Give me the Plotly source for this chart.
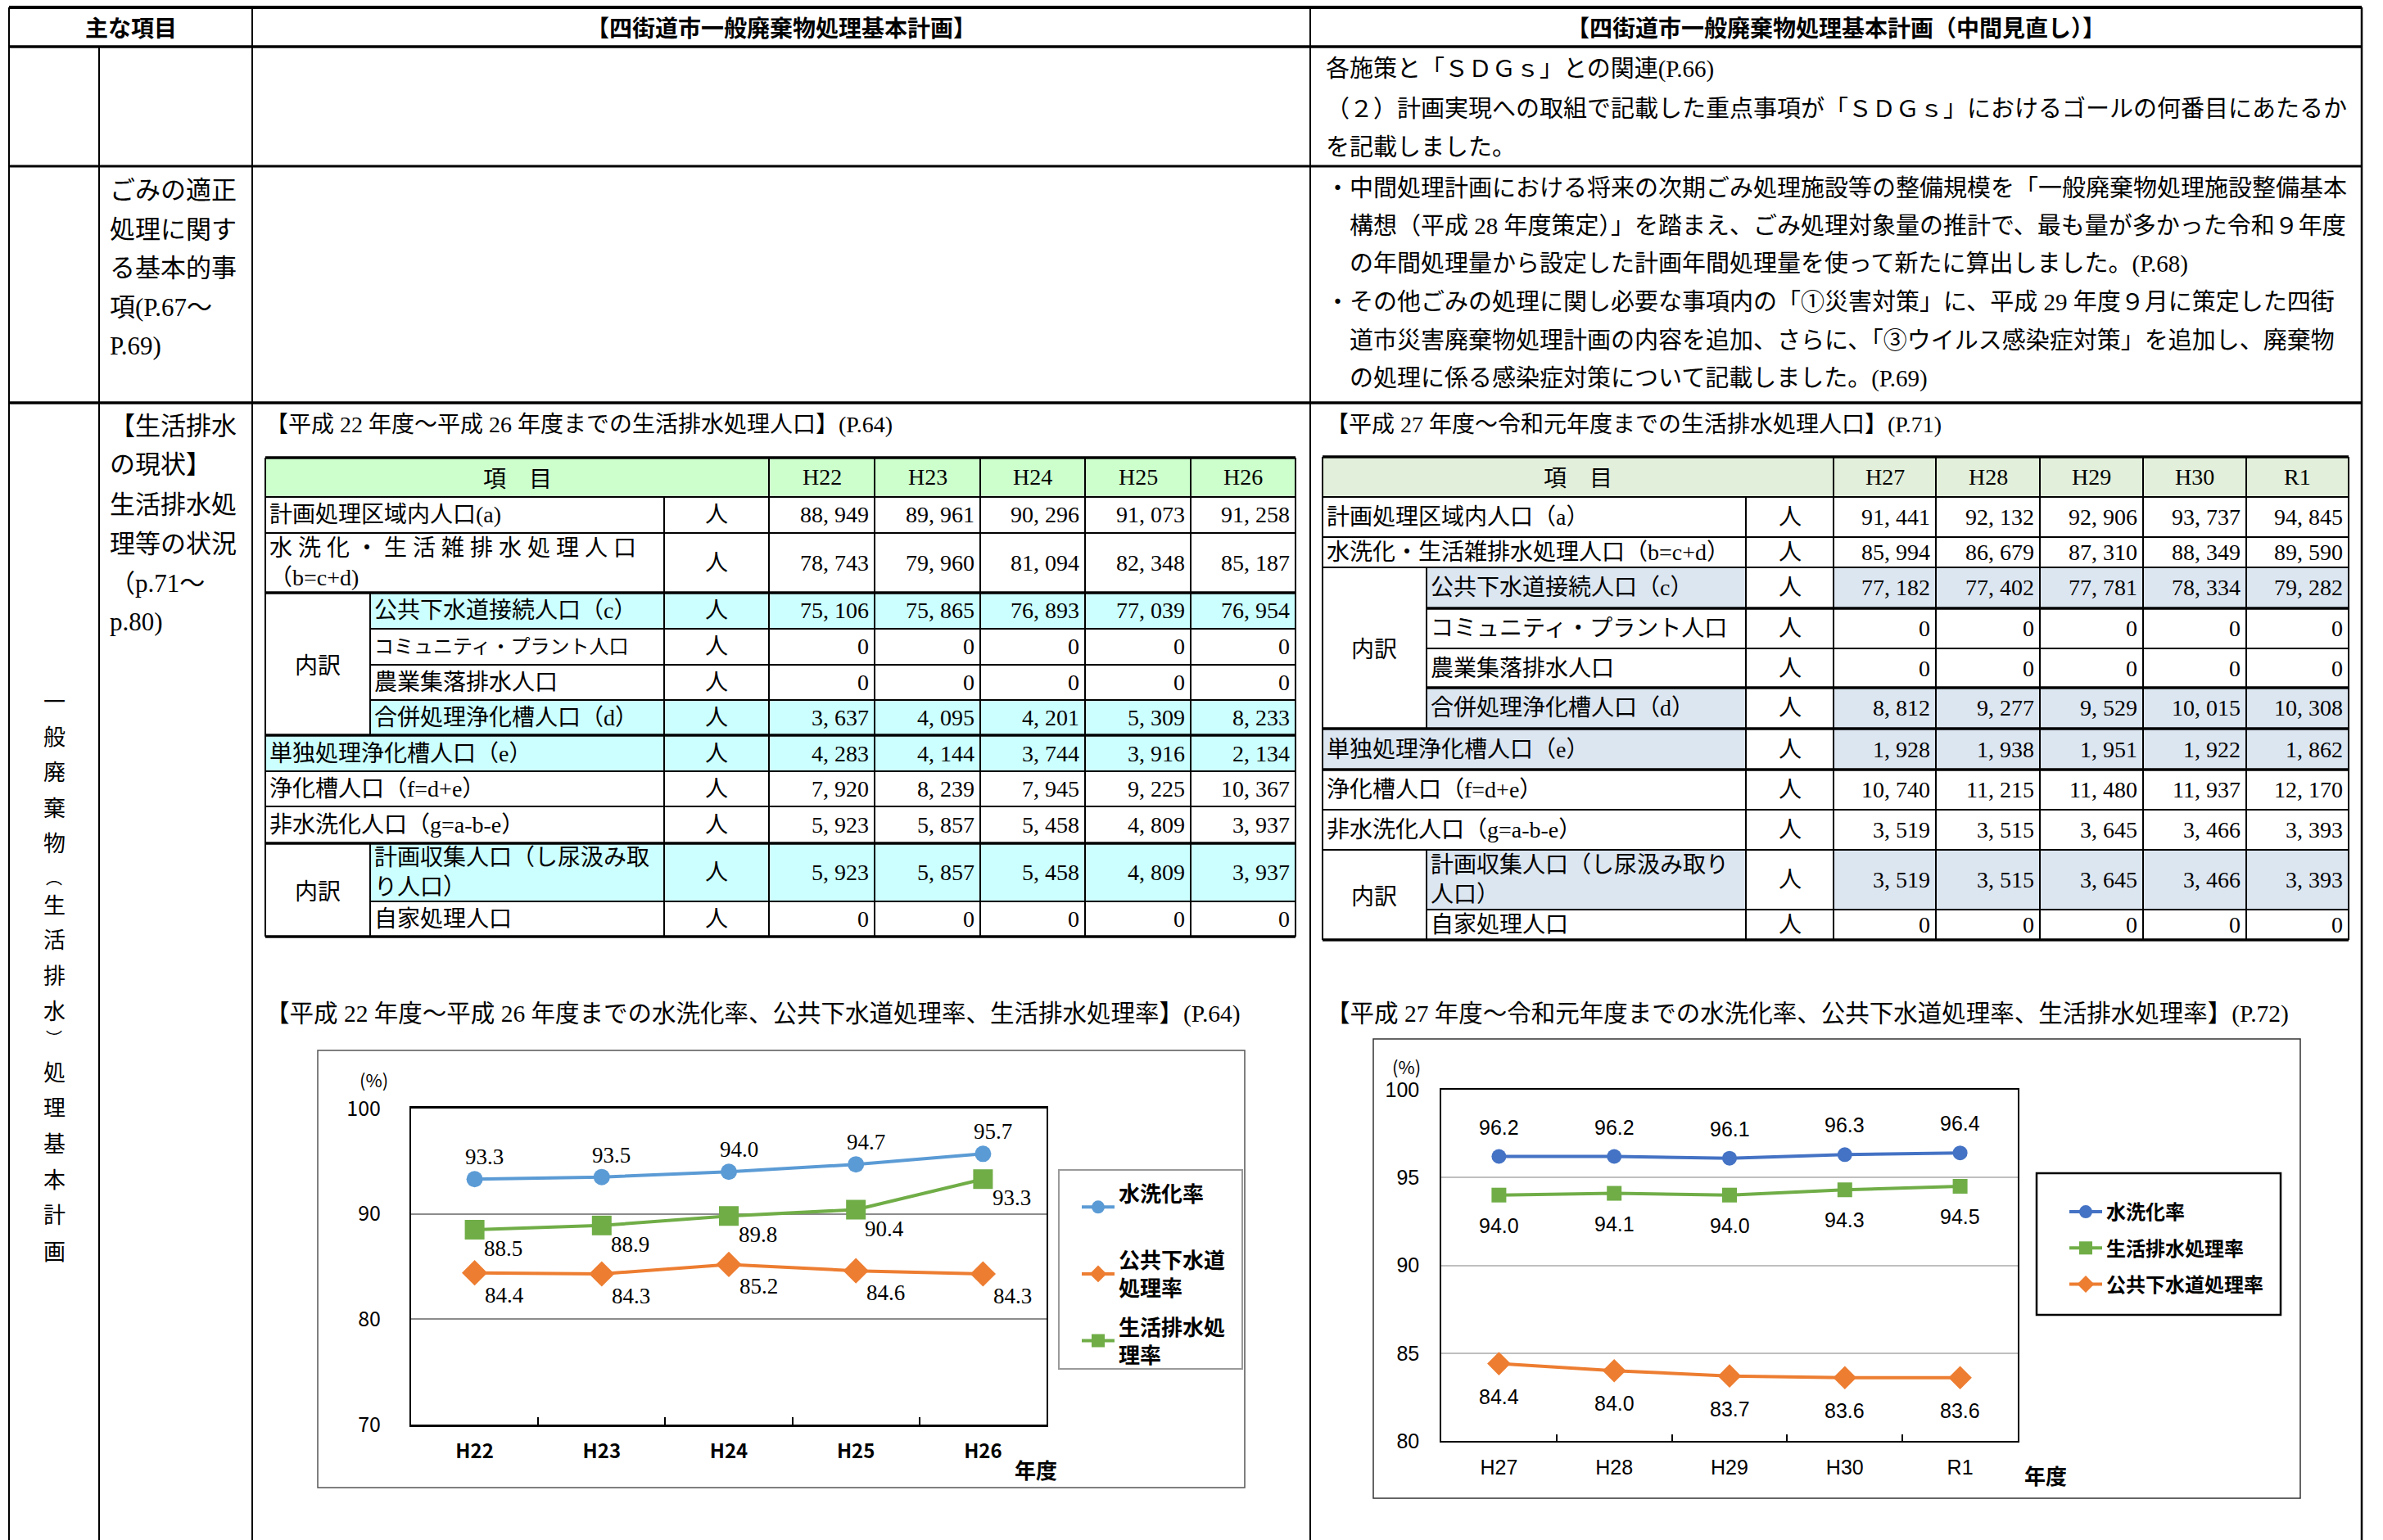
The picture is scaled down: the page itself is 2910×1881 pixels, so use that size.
import plotly.graph_objects as go

W, H = 2910, 1881

# ---------------- data ----------------
years_old = ["H22", "H23", "H24", "H25", "H26"]
years_new = ["H27", "H28", "H29", "H30", "R1"]

items_old = [
    "計画処理区域内人口(a)",
    "水 洗 化 ・ 生 活 雑 排 水 処 理 人 口<br>（b=c+d)",
    "公共下水道接続人口（c）",
    "コミュニティ・プラント人口",
    "農業集落排水人口",
    "合併処理浄化槽人口（d）",
    "単独処理浄化槽人口（e）",
    "浄化槽人口（f=d+e）",
    "非水洗化人口（g=a-b-e）",
    "計画収集人口（し尿汲み取<br>り人口）",
    "自家処理人口",
]
items_new = [
    "計画処理区域内人口（a）",
    "水洗化・生活雑排水処理人口（b=c+d）",
    "公共下水道接続人口（c）",
    "コミュニティ・プラント人口",
    "農業集落排水人口",
    "合併処理浄化槽人口（d）",
    "単独処理浄化槽人口（e）",
    "浄化槽人口（f=d+e）",
    "非水洗化人口（g=a-b-e）",
    "計画収集人口（し尿汲み取り<br>人口）",
    "自家処理人口",
]
unit_label = "人"

old_a = [88949, 89961, 90296, 91073, 91258]
old_b = [78743, 79960, 81094, 82348, 85187]
old_c = [75106, 75865, 76893, 77039, 76954]
old_comm = [0, 0, 0, 0, 0]
old_agri = [0, 0, 0, 0, 0]
old_d = [3637, 4095, 4201, 5309, 8233]
old_e = [4283, 4144, 3744, 3916, 2134]
old_f = [7920, 8239, 7945, 9225, 10367]
old_g = [5923, 5857, 5458, 4809, 3937]
old_collect = [5923, 5857, 5458, 4809, 3937]
old_self = [0, 0, 0, 0, 0]

new_a = [91441, 92132, 92906, 93737, 94845]
new_b = [85994, 86679, 87310, 88349, 89590]
new_c = [77182, 77402, 77781, 78334, 79282]
new_comm = [0, 0, 0, 0, 0]
new_agri = [0, 0, 0, 0, 0]
new_d = [8812, 9277, 9529, 10015, 10308]
new_e = [1928, 1938, 1951, 1922, 1862]
new_f = [10740, 11215, 11480, 11937, 12170]
new_g = [3519, 3515, 3645, 3466, 3393]
new_collect = [3519, 3515, 3645, 3466, 3393]
new_self = [0, 0, 0, 0, 0]

rows_old = [old_a, old_b, old_c, old_comm, old_agri, old_d, old_e, old_f, old_g, old_collect, old_self]
rows_new = [new_a, new_b, new_c, new_comm, new_agri, new_d, new_e, new_f, new_g, new_collect, new_self]

# rates (%)
flush_old = [93.3, 93.5, 94.0, 94.7, 95.7]
sewer_old = [84.4, 84.3, 85.2, 84.6, 84.3]
domestic_old = [88.5, 88.9, 89.8, 90.4, 93.3]

flush_new = [96.2, 96.2, 96.1, 96.3, 96.4]
domestic_new = [94.0, 94.1, 94.0, 94.3, 94.5]
sewer_new = [84.4, 84.0, 83.7, 83.6, 83.6]

# ---------------- layout geometry / styles ----------------
JP = "Noto Sans CJK JP"
BODY = "Liberation Serif, Noto Sans CJK JP"
SANS = "Liberation Sans, Noto Sans CJK JP"

GROUPS = [(2, 5), (9, 10)]
HIGHLIGHT = {2, 5, 6, 9}

OLD_X = dict(l=324, s=452, u=811, v=[939, 1068, 1197, 1325, 1454], r=1582)
OLD_Y = [559, 607, 651, 724, 768, 812, 855, 898, 942, 985, 1030, 1101, 1144]
NEW_X = dict(l=1615, s=1742, u=2132, v=[2239, 2364, 2491, 2617, 2743], r=2868)
NEW_Y = [558, 607, 656, 693, 743, 792, 840, 890, 940, 989, 1038, 1111, 1148]
TF = 28  # table font size

shapes = []
anns = []


def px(x):
    return x / W


def py(y):
    return 1 - y / H


def line(x0, y0, x1, y1, w=2, color="black"):
    shapes.append(dict(type="line", xref="paper", yref="paper",
                       x0=px(x0), y0=py(y0), x1=px(x1), y1=py(y1),
                       line=dict(color=color, width=w)))


def rect(x0, y0, x1, y1, fill=None, lc=None, lw=0):
    d = dict(type="rect", xref="paper", yref="paper",
             x0=px(x0), y0=py(y0), x1=px(x1), y1=py(y1),
             line=dict(width=lw, color=lc if lc else "rgba(0,0,0,0)"))
    if fill:
        d["fillcolor"] = fill
    shapes.append(d)


def txt(x, y, s, size=28, anchor="left", bold=False, family=BODY, color="black"):
    anns.append(dict(x=px(x), y=py(y), xref="paper", yref="paper", text=s,
                     showarrow=False, xanchor=anchor, yanchor="middle",
                     align=anchor, borderpad=0,
                     font=dict(size=size, family=family, color=color,
                               weight="bold" if bold else "normal")))


# ---------------- page frame ----------------
PL, PR, PT, PB = 11, 2884, 9, 1881
line(PL, PT, PR, PT, 4)
line(PL, 57, PR, 57, 3.5)
line(PL, 203, PR, 203, 3)
line(PL, 492, PR, 492, 3.5)
line(PL, PT, PL, PB, 2)
line(121, 57, 121, PB, 2)
line(308, PT, 308, PB, 2)
line(1600, PT, 1600, PB, 2)
line(PR, PT, PR, PB, 2.5)

txt(160, 33, "主な項目", 28, "center", True, JP)
txt(954, 33, "【四街道市一般廃棄物処理基本計画】", 28, "center", True, JP)
txt(2242, 33, "【四街道市一般廃棄物処理基本計画（中間見直し）】", 28, "center", True, JP)

# row 2 right text
for i, s in enumerate([
    "各施策と「ＳＤＧｓ」との関連(P.66)",
    "（２）計画実現への取組で記載した重点事項が「ＳＤＧｓ」におけるゴールの何番目にあたるか",
    "を記載しました。",
]):
    txt(1618, 85 + 47.5 * i, s, 29)

# row 3
for i, s in enumerate(["ごみの適正", "処理に関す", "る基本的事", "項(P.67～", "P.69)"]):
    txt(133, 233 + 47.5 * i, s, 31)
for i, s in enumerate([
    "・中間処理計画における将来の次期ごみ処理施設等の整備規模を「一般廃棄物処理施設整備基本",
    "　構想（平成 28 年度策定）」を踏まえ、ごみ処理対象量の推計で、最も量が多かった令和９年度",
    "　の年間処理量から設定した計画年間処理量を使って新たに算出しました。(P.68)",
    "・その他ごみの処理に関し必要な事項内の「①災害対策」に、平成 29 年度９月に策定した四街",
    "　道市災害廃棄物処理計画の内容を追加、さらに、「③ウイルス感染症対策」を追加し、廃棄物",
    "　の処理に係る感染症対策について記載しました。(P.69)",
]):
    txt(1618, 230 + 46.4 * i, s, 29)

# row 4 column texts (vertical writing)
vchars = ["一", "般", "廃", "棄", "物", "︵", "生", "活", "排", "水", "︶", "処", "理", "基", "本", "計", "画"]
vpos = [855, 898, 941, 985, 1028, 1071, 1104, 1146, 1190, 1233, 1267, 1308, 1351, 1395, 1439, 1482, 1527]
for ch, yy in zip(vchars, vpos):
    small = ch in ("︵", "︶")
    txt(66, yy, ch, 20 if small else 27, "center", False, JP)
for i, s in enumerate(["【生活排水", "の現状】", "生活排水処", "理等の状況", "（p.71～", "p.80)"]):
    txt(133, 520 + 48 * i, s, 31)

txt(323, 518, "【平成 22 年度～平成 26 年度までの生活排水処理人口】(P.64)", 28)
txt(1618, 518, "【平成 27 年度～令和元年度までの生活排水処理人口】(P.71)", 28)
txt(323, 1238, "【平成 22 年度～平成 26 年度までの水洗化率、公共下水道処理率、生活排水処理率】(P.64)", 29.5)
txt(1618, 1238, "【平成 27 年度～令和元年度までの水洗化率、公共下水道処理率、生活排水処理率】(P.72)", 29.5)


# ---------------- tables ----------------
def table(X, Y, years, labels, rows, hdr_fill, hl_fill, fill_unit, thick, small):
    xl, xs, xu, xv, xr = X["l"], X["s"], X["u"], X["v"], X["r"]
    n = len(labels)
    group_of = {}
    for gi, (a, b) in enumerate(GROUPS):
        for i in range(a, b + 1):
            group_of[i] = gi
    rect(xl, Y[0], xr, Y[1], hdr_fill)
    for i in range(n):
        if i in HIGHLIGHT:
            x0 = xs if i in group_of else xl
            if fill_unit:
                rect(x0, Y[i + 1], xr, Y[i + 2], hl_fill)
            else:
                rect(x0, Y[i + 1], xu, Y[i + 2], hl_fill)
                rect(xv[0], Y[i + 1], xr, Y[i + 2], hl_fill)
    for k in range(len(Y)):
        x0 = xl
        if 2 <= k <= n:
            a, b = k - 2, k - 1
            if a in group_of and b in group_of and group_of[a] == group_of[b]:
                x0 = xs
        line(x0, Y[k], xr, Y[k], 3.5 if k in thick else 2)
    line(xl, Y[0], xl, Y[-1], 2)
    line(xr, Y[0], xr, Y[-1], 2)
    for x in xv:
        line(x, Y[0], x, Y[-1], 2)
    line(xu, Y[1], xu, Y[-1], 2)
    for (a, b) in GROUPS:
        line(xs, Y[a + 1], xs, Y[b + 2], 2)
    # text
    txt((xl + xv[0]) / 2, (Y[0] + Y[1]) / 2, "項　目", TF, "center", False, JP)
    edges = xv + [xr]
    for j, yr in enumerate(years):
        txt((edges[j] + edges[j + 1]) / 2, (Y[0] + Y[1]) / 2, yr, TF, "center")
    for i in range(n):
        ym = (Y[i + 1] + Y[i + 2]) / 2
        x0 = xs if i in group_of else xl
        txt(x0 + 4, ym, labels[i], small if i == 3 else TF, "left")
        txt((xu + xv[0]) / 2, ym, unit_label, TF, "center")
        for j in range(5):
            txt(edges[j + 1] - 6, ym, f"{rows[i][j]:,}".replace(",", ", "), TF, "right")
    for (a, b) in GROUPS:
        txt((xl + xs) / 2, (Y[a + 1] + Y[b + 2]) / 2, "内訳", TF, "center", False, JP)


table(OLD_X, OLD_Y, years_old, items_old, rows_old, "#ccffcc", "#ccffff", True, {0, 3, 7, 10, 12}, 24)
table(NEW_X, NEW_Y, years_new, items_new, rows_new, "#e2efda", "#dce6f1", False, {0, 4, 6, 7, 8, 12}, 28)

# ---------------- charts ----------------
rect(388, 1283, 1520, 1817, None, "#555555", 1.5)
rect(1677, 1269, 2809, 1830, None, "#333333", 1.5)
rect(1293, 1429, 1517, 1672, None, "#9a9a9a", 2)
rect(2487, 1433, 2785, 1606, None, "black", 2.5)

BLUE1, ORANGE, GREEN, BLUE2 = "#5b9bd5", "#ed7d31", "#70ad47", "#4472c4"

fig = go.Figure()
c1 = [
    ("水洗化率<br>\u3000", flush_old, BLUE1, "circle", 20, (12, 27)),
    ("公共下水道<br>処理率", sewer_old, ORANGE, "diamond", 24, (36, -27)),
    ("生活排水処<br>理率", domestic_old, GREEN, "square", 24, (35, -23)),
]
for k, (nm, ys, col, sym, sz, (dx, dy)) in enumerate(c1):
    fig.add_trace(go.Scatter(
        x=years_old, y=ys, mode="lines+markers", name=nm,
        line=dict(color=col, width=4), marker=dict(symbol=sym, size=sz, color=col),
        xaxis="x", yaxis="y", legend="legend", legendgroup=f"g1{k}"))
    for xv_, yv_ in zip(years_old, ys):
        anns.append(dict(x=xv_, y=yv_, xref="x", yref="y", text=f"{yv_:.1f}",
                         showarrow=False, xshift=dx, yshift=dy,
                         font=dict(size=27, family=BODY, color="black")))

c2 = [
    ("水洗化率", flush_new, BLUE2, "circle", 18, (0, 36)),
    ("生活排水処理率", domestic_new, GREEN, "square", 18, (0, -37)),
    ("公共下水道処理率", sewer_new, ORANGE, "diamond", 22, (0, -40)),
]
for k, (nm, ys, col, sym, sz, (dx, dy)) in enumerate(c2):
    fig.add_trace(go.Scatter(
        x=years_new, y=ys, mode="lines+markers", name=nm,
        line=dict(color=col, width=4), marker=dict(symbol=sym, size=sz, color=col),
        xaxis="x2", yaxis="y2", legend="legend2", legendgroup=f"g2{k}"))
    for xv_, yv_ in zip(years_new, ys):
        anns.append(dict(x=xv_, y=yv_, xref="x2", yref="y2", text=f"{yv_:.1f}",
                         showarrow=False, xshift=dx, yshift=dy,
                         font=dict(size=25, family=SANS, color="black")))

txt(456, 1318, "(%)", 22, "center", False, JP)
txt(1265, 1794, "年度", 26, "center", True, JP)
txt(1717, 1302, "(%)", 22, "center", False, JP)
txt(2498, 1801, "年度", 26, "center", True, JP)

fig.update_layout(
    width=W, height=H, autosize=False,
    margin=dict(l=0, r=0, t=0, b=0, pad=0, autoexpand=False),
    paper_bgcolor="white", plot_bgcolor="white",
    showlegend=True,
    shapes=shapes, annotations=anns,
    xaxis=dict(domain=[px(502), px(1278)], anchor="y", type="category", automargin=False,
               range=[-0.5, 4.5], showgrid=False, zeroline=False,
               showline=True, linecolor="black", linewidth=3, mirror=True,
               ticks="inside", tickson="boundaries", ticklen=9, tickwidth=1.5,
               tickcolor="black", ticklabelstandoff=9,
               tickfont=dict(size=24, family=JP, color="black", weight="bold")),
    yaxis=dict(domain=[py(1740), py(1354)], anchor="x", range=[70, 100], dtick=10,
               automargin=False,
               showgrid=True, gridcolor="#8c8c8c", gridwidth=1.5, zeroline=False,
               showline=True, linecolor="black", linewidth=2, mirror=True,
               ticks="", ticklabelstandoff=30,
               tickfont=dict(size=25, family=JP, color="black")),
    xaxis2=dict(domain=[px(1760), px(2464)], anchor="y2", type="category", automargin=False,
                range=[-0.5, 4.5], showgrid=False, zeroline=False,
                showline=True, linecolor="black", linewidth=1.5, mirror=True,
                ticks="inside", tickson="boundaries", ticklen=8, tickwidth=1.5,
                tickcolor="black", ticklabelstandoff=9,
                tickfont=dict(size=25, family=SANS, color="black")),
    yaxis2=dict(domain=[py(1760), py(1331)], anchor="x2", range=[80, 100], dtick=5,
                automargin=False,
                showgrid=True, gridcolor="#bfbfbf", gridwidth=1.5, zeroline=False,
                showline=True, linecolor="black", linewidth=1.5, mirror=True,
                ticks="", ticklabelstandoff=20,
                tickfont=dict(size=25, family=SANS, color="black")),
    legend=dict(x=px(1316), y=py(1434), xanchor="left", yanchor="top",
                bgcolor="rgba(0,0,0,0)", borderwidth=0, traceorder="grouped",
                tracegroupgap=11, itemwidth=40,
                font=dict(size=26, family=JP, color="black", weight="bold")),
    legend2=dict(x=px(2522), y=py(1458), xanchor="left", yanchor="top",
                 bgcolor="rgba(0,0,0,0)", borderwidth=0, traceorder="grouped",
                 tracegroupgap=10, itemwidth=40,
                 font=dict(size=24, family=JP, color="black", weight="bold")),
)

fig.write_html("out.html", config={"displayModeBar": False},
               post_script="document.body.style.margin='0px';document.body.style.overflow='hidden';")
